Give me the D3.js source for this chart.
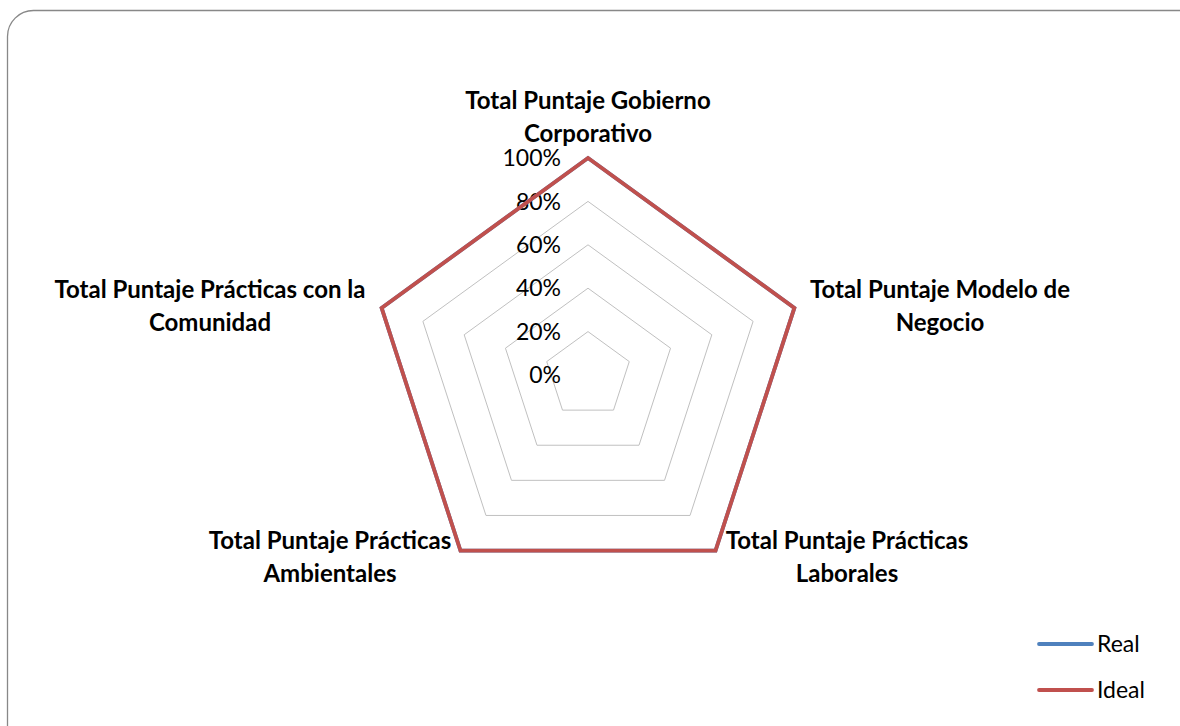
<!DOCTYPE html>
<html><head><meta charset="utf-8">
<script src="https://cdn.jsdelivr.net/npm/d3@7"></script>
<style>body{margin:0;background:#fff;} svg{display:block;}</style>
</head><body>
<svg id="c" width="1180" height="726"></svg>
<script>
const categories = [
  ["Total Puntaje Gobierno", "Corporativo"],
  ["Total Puntaje Modelo de", "Negocio"],
  ["Total Puntaje Prácticas", "Laborales"],
  ["Total Puntaje Prácticas", "Ambientales"],
  ["Total Puntaje Prácticas con la", "Comunidad"]
];
const realValues = [1, 1, 1, 1, 1];
const idealValues = [1, 1, 1, 1, 1];
const tickValues = [0, 0.2, 0.4, 0.6, 0.8, 1];
const tickLabels = ["0%", "20%", "40%", "60%", "80%", "100%"];
const seriesNames = ["Real", "Ideal"];
const seriesColors = ["#4F81BD", "#C0504D"];

const svg = d3.select("#c");
const font = "Lato, 'Open Sans', sans-serif";
svg.append("rect").attr("x", 7.5).attr("y", 10.5).attr("width", 1200).attr("height", 760)
  .attr("rx", 26).attr("fill", "#fff").attr("stroke", "#888").attr("stroke-width", 1.3);

const cx = 588, cy = 375, R = 217;
const r = d3.scaleLinear().domain([0, 1]).range([0, R]);
const n = categories.length;
const ang = i => -Math.PI / 2 + i * 2 * Math.PI / n;
const pt = (i, v) => [cx + r(v) * Math.cos(ang(i)), cy + r(v) * Math.sin(ang(i))];
const line = d3.line().curve(d3.curveLinearClosed);

const g = svg.append("g");
tickValues.forEach(t => {
  if (t === 0) return;
  g.append("path").attr("d", line(d3.range(n).map(i => pt(i, t))))
    .attr("fill", "none").attr("stroke", "#c0c0c0").attr("stroke-width", 1);
});
tickValues.forEach((t, k) => {
  g.append("text").attr("x", cx - 27).attr("y", cy - r(t)).attr("dy", "0.36em")
    .attr("text-anchor", "end").attr("font-family", font).attr("font-size", 23)
    .attr("fill", "#000").text(tickLabels[k]);
});

[realValues, idealValues].forEach((vals, s) => {
  g.append("path").attr("d", line(vals.map((v, i) => pt(i, v))))
    .attr("fill", "none").attr("stroke", seriesColors[s]).attr("stroke-width", 3.8)
    .attr("stroke-linejoin", "miter");
});

const labelPos = [[588, 100], [940, 289], [847, 540], [330, 540], [210, 289]];
categories.forEach((lines, i) => {
  const t = g.append("text").attr("text-anchor", "middle").attr("font-family", font)
    .attr("font-weight", "bold").attr("font-size", 24).attr("fill", "#000");
  lines.forEach((l, j) => {
    t.append("tspan").attr("x", labelPos[i][0]).attr("y", labelPos[i][1] + j * 33).attr("dy", "0.36em").text(l);
  });
});

const leg = svg.append("g");
seriesNames.forEach((name, s) => {
  const y = 644 + s * 46;
  leg.append("line").attr("x1", 1039).attr("x2", 1092).attr("y1", y).attr("y2", y)
    .attr("stroke", seriesColors[s]).attr("stroke-width", 3.8).attr("stroke-linecap", "round");
  leg.append("text").attr("x", 1097).attr("y", y).attr("dy", "0.36em").attr("font-family", font)
    .attr("font-size", 23).attr("fill", "#000").text(name);
});
</script>
</body></html>
